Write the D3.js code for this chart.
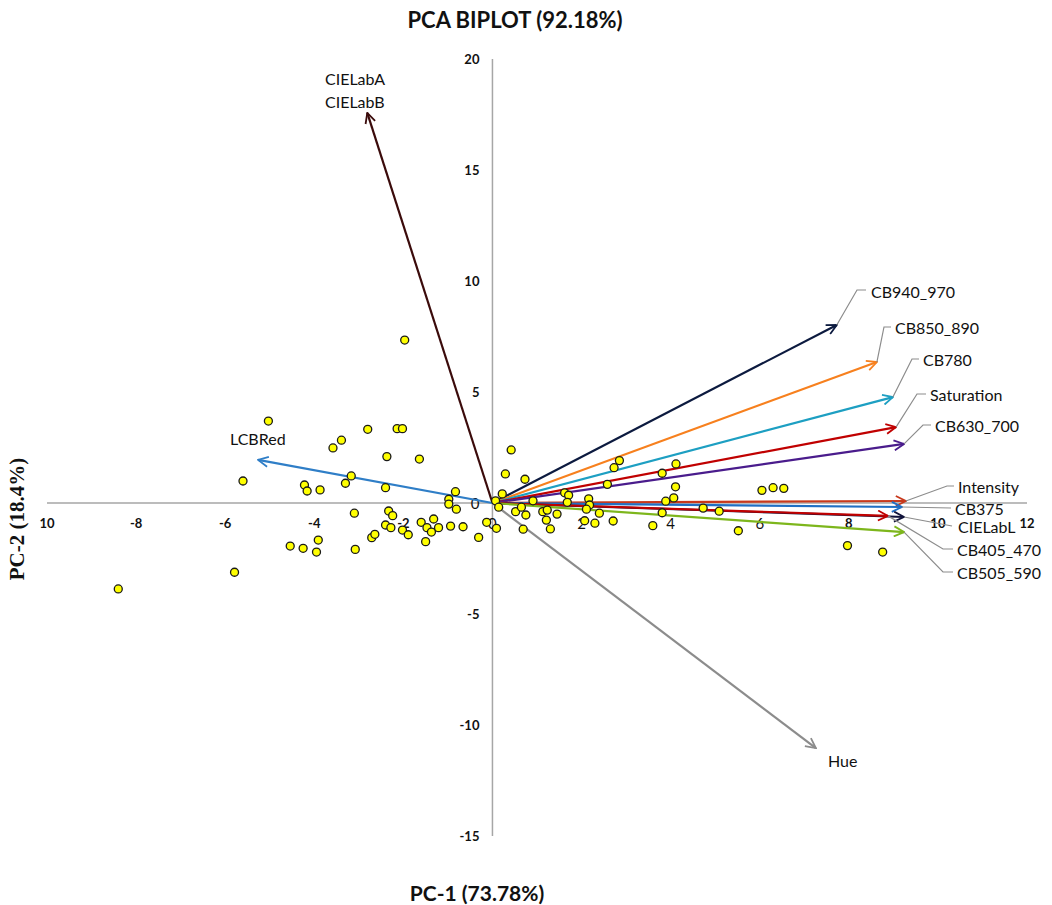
<!DOCTYPE html>
<html>
<head>
<meta charset="utf-8">
<script src="https://cdn.jsdelivr.net/npm/d3@7"></script>
<style>
  body { margin: 0; background: #fff; }
  .tick-label { font-family: Lato, "Open Sans", sans-serif; font-size: 13px; font-weight: bold; fill: #111; }
  .var-label { font-family: Lato, "Open Sans", sans-serif; font-size: 16px; fill: #111; }
  .title { font-family: Lato, "Open Sans", sans-serif; font-size: 21px; font-weight: bold; fill: #111; }
</style>
</head>
<body>
<svg id="chart" width="1052" height="905"></svg>
<script>
// Tick values / labels
const xTicks = [-10, -8, -6, -4, -2, 0, 2, 4, 6, 8, 10, 12];
const xTickLabels = ["10", "-8", "-6", "-4", "-2", "0", "2", "4", "6", "8", "10", "12"];
const yTicks = [-15, -10, -5, 0, 5, 10, 15, 20];

// Loading vectors (variables)
const varNames = ["CIELabA", "LCBRed", "CB940_970", "CB850_890", "CB780", "Saturation", "CB630_700",
                  "Intensity", "CB375", "CIELabL", "CB405_470", "CB505_590", "Hue"];
const varX = [-2.81, -5.26, 7.73, 8.63, 8.99, 9.06, 9.24, 9.28, 9.19, 9.24, 8.88, 9.24, 7.26];
const varY = [17.57, 1.94, 8.02, 6.35, 4.77, 3.42, 2.66, 0.09, -0.18, -0.63, -0.58, -1.31, -11.04];
const varColors = ["#3b0b0b", "#2f7ec7", "#0c1a3f", "#f7801e", "#1d9fc2", "#c00000", "#4a1c8c",
                   "#c8391c", "#1f6fc4", "#10123a", "#c00000", "#7db61c", "#8c8c8c"];

// Scores (samples)
const scoreX = [-5.03, -2.80, -2.14, -2.02, -3.58, -3.39, -2.37, -1.64, -5.60, -3.17, -3.30, -4.22, -4.16,
  -3.87, -2.40, -0.83, -0.98, -0.98, -0.81, -3.10, -2.33, -2.24, -2.40, -2.28, -2.02, -1.89, -1.60, -1.47,
  -1.37, -1.32, -1.21, -0.94, -0.66, -1.50, -0.31, -0.13, 0.09, -2.71, -2.64, -4.54, -4.25, -3.91, -3.95,
  -3.08, -5.79, -8.40, -1.97,
  0.42, 0.29, 0.73, 0.22, 0.07, 0.14, 0.52, 0.65, 0.75, 0.91, 1.13, 1.23, 1.21, 1.45, 1.30, 0.69, 1.62,
  1.71, 1.68, 2.16, 2.18, 2.11, 2.07, 2.30, 2.40, 2.71, 2.58, 2.73, 2.85, 3.81, 4.12, 4.11, 4.07, 3.89,
  3.81, 3.60, 4.73, 5.09, 5.52, 6.05, 6.30, 6.54, 7.97, 8.76];
const scoreY = [3.69, 3.32, 3.35, 3.35, 2.48, 2.83, 2.09, 1.98, 0.99, 1.22, 0.89, 0.81, 0.54,
  0.59, 0.69, 0.51, 0.17, -0.05, -0.28, -0.46, -0.36, -0.57, -0.99, -1.11, -1.22, -1.43, -0.87, -1.11,
  -1.31, -0.72, -1.11, -1.04, -1.07, -1.74, -1.55, -0.87, -1.14, -1.56, -1.41, -1.94, -2.04, -1.67, -2.21,
  -2.09, -3.12, -3.87, 7.34,
  2.39, 1.31, 1.07, 0.41, 0.10, -0.19, -0.39, -0.19, -0.54, 0.10, -0.39, -0.32, -0.77, -0.50, -1.17, -1.18, 0.46,
  0.35, 0.03, 0.19, -0.09, -0.28, -0.80, -0.91, -0.46, -0.81, 0.84, 1.59, 1.91, 1.34, 1.76, 0.73, 0.23, 0.08,
  -0.44, -1.02, -0.23, -0.37, -1.25, 0.57, 0.69, 0.66, -1.92, -2.21];

// Label placement (pixels): text start, and elbow of the leader line (null = no leader)
const labelLayout = {
  "CIELabA":   { x: 325, y: 78, lines: ["CIELabA", "CIELabB"] },
  "LCBRed":    { x: 230, y: 438 },
  "CB940_970": { x: 871, y: 291, elbow: [857, 290], end: 866 },
  "CB850_890": { x: 895, y: 327, elbow: [884, 327], end: 891 },
  "CB780":     { x: 923, y: 359, elbow: [912, 359], end: 919 },
  "Saturation":{ x: 930, y: 394, elbow: [917, 394], end: 926 },
  "CB630_700": { x: 935, y: 425, elbow: [923, 425], end: 931 },
  "Intensity": { x: 958, y: 486, elbow: [947, 486], end: 954 },
  "CB375":     { x: 955, y: 508, elbow: [951, 508], end: 951 },
  "CIELabL":   { x: 958, y: 526, elbow: [952, 526], end: 952 },
  "CB405_470": { x: 957, y: 549, elbow: [943, 549], end: 953 },
  "CB505_590": { x: 957, y: 572, elbow: [943, 572], end: 953 },
  "Hue":       { x: 828, y: 760 }
};

const svg = d3.select("#chart");

const xScale = d3.scaleLinear().domain([-10, 12]).range([47, 1027]);
const yScale = d3.scaleLinear().domain([-15, 20]).range([836, 59]);
const x0 = xScale(0), y0 = yScale(0);

// Axes
svg.append("line")
    .attr("x1", xScale(-10)).attr("x2", xScale(12))
    .attr("y1", y0).attr("y2", y0)
    .attr("stroke", "#a6a6a6").attr("stroke-width", 1.5);
svg.append("line")
    .attr("x1", x0).attr("x2", x0)
    .attr("y1", yScale(20)).attr("y2", yScale(-15))
    .attr("stroke", "#a6a6a6").attr("stroke-width", 1.5);

// X tick labels
svg.selectAll(".xtick")
    .data(xTicks)
    .enter().append("text")
    .attr("class", "tick-label")
    .attr("x", d => xScale(d))
    .attr("y", y0 + 20)
    .attr("text-anchor", "middle")
    .attr("dominant-baseline", "central")
    .style("font-weight", d => (d >= 0 && d <= 6) ? "normal" : "bold")
    .style("font-size", d => (d >= 0 && d <= 6) ? "15px" : "13px")
    .text((d, i) => xTickLabels[i]);

// Y tick labels
svg.selectAll(".ytick")
    .data(yTicks)
    .enter().append("text")
    .attr("class", "tick-label")
    .attr("x", x0 - 13)
    .attr("y", d => yScale(d))
    .attr("text-anchor", "end")
    .attr("dominant-baseline", "central")
    .style("font-weight", d => d === 0 ? "normal" : "bold")
    .style("font-size", d => d === 0 ? "15px" : "13px")
    .text(d => d);

// Arrow markers, one per colour
const defs = svg.append("defs");
varNames.forEach((name, i) => {
    defs.append("marker")
        .attr("id", "arrow" + i)
        .attr("viewBox", "0 0 12 12")
        .attr("refX", 11).attr("refY", 6)
        .attr("markerWidth", 12).attr("markerHeight", 12)
        .attr("markerUnits", "userSpaceOnUse")
        .attr("orient", "auto")
        .append("path")
        .attr("d", "M1,1 L11,6 L1,11")
        .attr("fill", "none")
        .attr("stroke", varColors[i])
        .attr("stroke-width", 1.8);
});

// Loading arrows
svg.selectAll(".vec")
    .data(varNames)
    .enter().append("line")
    .attr("class", "vec")
    .attr("x1", x0).attr("y1", y0)
    .attr("x2", (d, i) => xScale(varX[i]))
    .attr("y2", (d, i) => yScale(varY[i]))
    .attr("stroke", (d, i) => varColors[i])
    .attr("stroke-width", 2.2)
    .attr("marker-end", (d, i) => "url(#arrow" + i + ")");

// Scores
svg.selectAll(".pt")
    .data(scoreX)
    .enter().append("circle")
    .attr("class", "pt")
    .attr("cx", d => xScale(d))
    .attr("cy", (d, i) => yScale(scoreY[i]))
    .attr("r", 4)
    .attr("fill", "#ffff00")
    .attr("stroke", "#1a1a1a")
    .attr("stroke-width", 1.3);

// Leader lines and variable labels
varNames.forEach((name, i) => {
    const lay = labelLayout[name];
    if (lay.elbow) {
        const pts = [[xScale(varX[i]), yScale(varY[i])], lay.elbow, [lay.end, lay.elbow[1]]];
        svg.append("path")
            .attr("d", d3.line()(pts))
            .attr("fill", "none")
            .attr("stroke", "#8c8c8c")
            .attr("stroke-width", 1.2);
    }
    const lines = lay.lines || [name];
    lines.forEach((t, j) => {
        svg.append("text")
            .attr("class", "var-label")
            .attr("x", lay.x)
            .attr("y", lay.y + j * 23)
            .attr("dominant-baseline", "central")
            .text(t);
    });
});

// Titles
svg.append("text")
    .attr("class", "title")
    .attr("x", 515).attr("y", 19)
    .attr("text-anchor", "middle")
    .attr("dominant-baseline", "central")
    .style("font-size", "22px")
    .text("PCA BIPLOT (92.18%)");

svg.append("text")
    .attr("class", "title")
    .attr("x", 477).attr("y", 892)
    .attr("text-anchor", "middle")
    .attr("dominant-baseline", "central")
    .text("PC-1 (73.78%)");

svg.append("text")
    .attr("class", "title")
    .attr("transform", "translate(17,519) rotate(-90)")
    .attr("text-anchor", "middle")
    .attr("dominant-baseline", "central")
    .style("font-family", "'Liberation Serif', 'DejaVu Serif', serif")
    .style("font-size", "21px")
    .text("PC-2 (18.4%)");
</script>
</body>
</html>
